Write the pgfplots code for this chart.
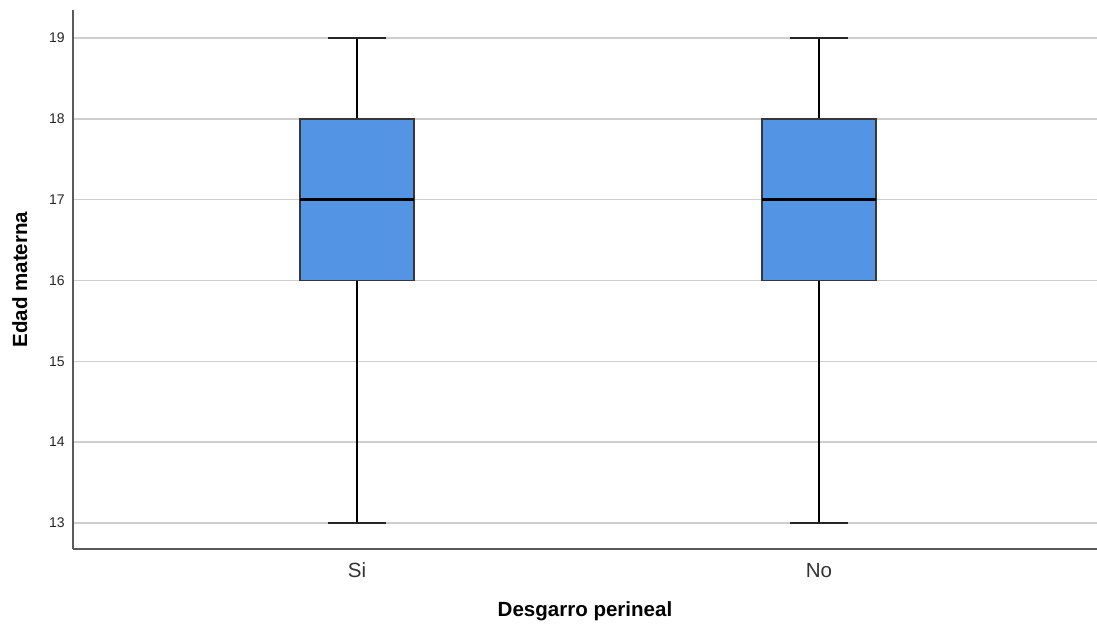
\documentclass[border=0pt]{standalone}
\usepackage{pgfplots}
\pgfplotsset{compat=1.18}
\usepackage{fontspec}
\setmainfont{Liberation Sans}
\definecolor{boxfill}{RGB}{83,148,228}
\definecolor{boxedge}{RGB}{55,55,55}
\definecolor{gridc}{RGB}{206,206,206}
\definecolor{axisc}{RGB}{90,90,90}
\begin{document}
\begin{tikzpicture}
\begin{axis}[
  scale only axis,
  width=768pt, height=404.25pt,
  xmin=0.3853, xmax=2.6017,
  ymin=12.678, ymax=19.346,
  axis x line*=bottom, axis y line*=left,
  axis line style={-, draw=axisc, line width=1.1pt},
  xtick={1,2}, xticklabels={Si,No},
  ytick={13,14,15,16,17,18,19},
  /pgf/number format/assume math mode=true,
  major tick length=0pt,
  tick style={draw=none},
  ymajorgrids,
  grid style={draw=gridc, line width=1.1pt},
  xticklabel style={font=\fontsize{15.4pt}{18pt}\selectfont, text=black!80, anchor=base, inner sep=0pt, yshift=-21pt},
  yticklabel style={font=\fontsize{10.5pt}{12pt}\selectfont, text=black!85, anchor=east, inner sep=0pt, xshift=-6pt},
  xlabel={\textbf{Desgarro perineal}},
  ylabel={\textbf{Edad materna}},
  xlabel style={font=\fontsize{15.4pt}{18pt}\selectfont, at={(axis description cs:0.5,-0.1243)}, anchor=base, inner sep=0pt},
  ylabel style={font=\fontsize{15.4pt}{18pt}\selectfont, at={(axis description cs:-0.0449,0.5)}, anchor=base, inner sep=0pt},
  clip=false,
]
% Si: whiskers 13-19, box 16-18, median 17
\addplot[draw=black, line width=1.4pt] coordinates {(1,18) (1,19)};
\addplot[draw=black, line width=1.4pt] coordinates {(1,16) (1,13)};
\addplot[fill=boxfill, draw=boxedge, line width=1.1pt] coordinates {(0.8766,16) (1.1234,16) (1.1234,18) (0.8766,18)} -- cycle;
\addplot[draw=black, line width=2.2pt] coordinates {(0.8766,17) (1.1234,17)};
\addplot[draw=black!85, line width=1.5pt] coordinates {(0.93725,19) (1.06275,19)};
\addplot[draw=black!85, line width=1.5pt] coordinates {(0.93725,13) (1.06275,13)};
% No: whiskers 13-19, box 16-18, median 17
\addplot[draw=black, line width=1.4pt] coordinates {(2,18) (2,19)};
\addplot[draw=black, line width=1.4pt] coordinates {(2,16) (2,13)};
\addplot[fill=boxfill, draw=boxedge, line width=1.1pt] coordinates {(1.8766,16) (2.1234,16) (2.1234,18) (1.8766,18)} -- cycle;
\addplot[draw=black, line width=2.2pt] coordinates {(1.8766,17) (2.1234,17)};
\addplot[draw=black!85, line width=1.5pt] coordinates {(1.93725,19) (2.06275,19)};
\addplot[draw=black!85, line width=1.5pt] coordinates {(1.93725,13) (2.06275,13)};
\coordinate (sw) at (rel axis cs:0,0);
\coordinate (ne) at (rel axis cs:1,1);
\end{axis}
\pgfresetboundingbox
\useasboundingbox ([shift={(-54.75pt,-56.25pt)}]sw) rectangle ([shift={(0pt,7.5pt)}]ne);
\end{tikzpicture}
\end{document}
